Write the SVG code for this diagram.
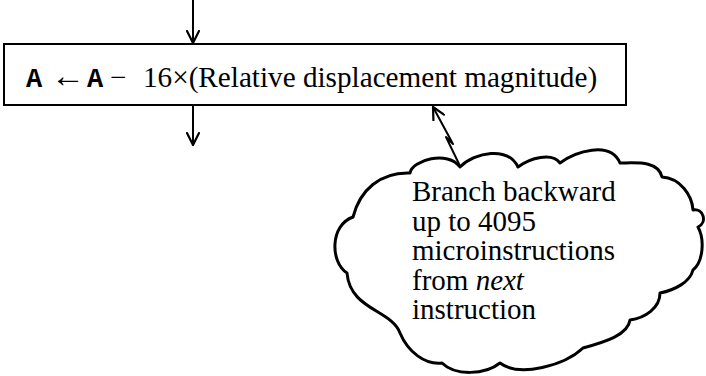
<svg xmlns="http://www.w3.org/2000/svg" width="706" height="376" viewBox="0 0 706 376">
<style>
.ln{fill:none;stroke:#000;stroke-width:2;stroke-linecap:round;stroke-linejoin:round}
.cloud{fill:#fff;stroke:#000;stroke-width:3;stroke-linejoin:round;stroke-linecap:round}
.box{fill:#fff;stroke:#000;stroke-width:2}
.t{font-family:"Liberation Serif","Times New Roman",serif;font-size:29px;fill:#000}
.m{font-family:"Liberation Mono","Courier New",monospace;font-weight:bold;font-size:27px}
.ar{font-size:34px}
</style>
<defs>
<marker id="ah" viewBox="0 0 14 14" refX="13" refY="7" markerWidth="14" markerHeight="14" markerUnits="userSpaceOnUse" orient="auto-start-reverse">
<path d="M1,1 L13,7 L1,13" fill="none" stroke="#000" stroke-width="2.2" stroke-linecap="round" stroke-linejoin="round"/>
</marker>
</defs>
<rect width="706" height="376" fill="#fff"/>
<g id="connectors">
<path class="ln" d="M193,0 L193,43" marker-end="url(#ah)"/>
<path class="ln" d="M193,106 L193,145" marker-end="url(#ah)"/>
<path class="ln" d="M433,107 L453,144 L446,137 L460,166" marker-start="url(#ah)"/>
</g>
<g id="box">
<rect class="box" x="4" y="44" width="622" height="61"/>
<text class="t" y="87"><tspan class="m" x="26">A</tspan><tspan class="ar" x="51">←</tspan><tspan class="m" x="87">A</tspan><tspan x="110">−</tspan><tspan x="143" font-size="29.2">16×(Relative displacement magnitude)</tspan></text>
</g>
<g id="cloud">
<path class="cloud" d="M460,167 C475,152 508,146 518,167 C530,158 552,152 560,163 C575,152 610,140 620,163 C635,163 658,160 662,177 C680,178 692,195 693,210 C703,208 708,222 698,227 C705,240 703,262 693,270 C690,282 675,290 660,293 C660,308 645,318 630,320 C628,335 605,342 583,348 C565,365 520,378 500,363 C485,375 455,376 442,363 C425,365 408,352 400,333 C392,310 350,310 347,273 C330,262 330,225 353,217 C360,190 380,172 410,173 C412,160 448,150 460,167 Z"/>
<text class="t"><tspan x="412" y="201">Branch backward</tspan><tspan x="412" y="230.5">up to 4095</tspan><tspan x="412" y="260">microinstructions</tspan><tspan x="412" y="289.5">from <tspan font-style="italic">next</tspan></tspan><tspan x="412" y="319">instruction</tspan></text>
</g>
</svg>
